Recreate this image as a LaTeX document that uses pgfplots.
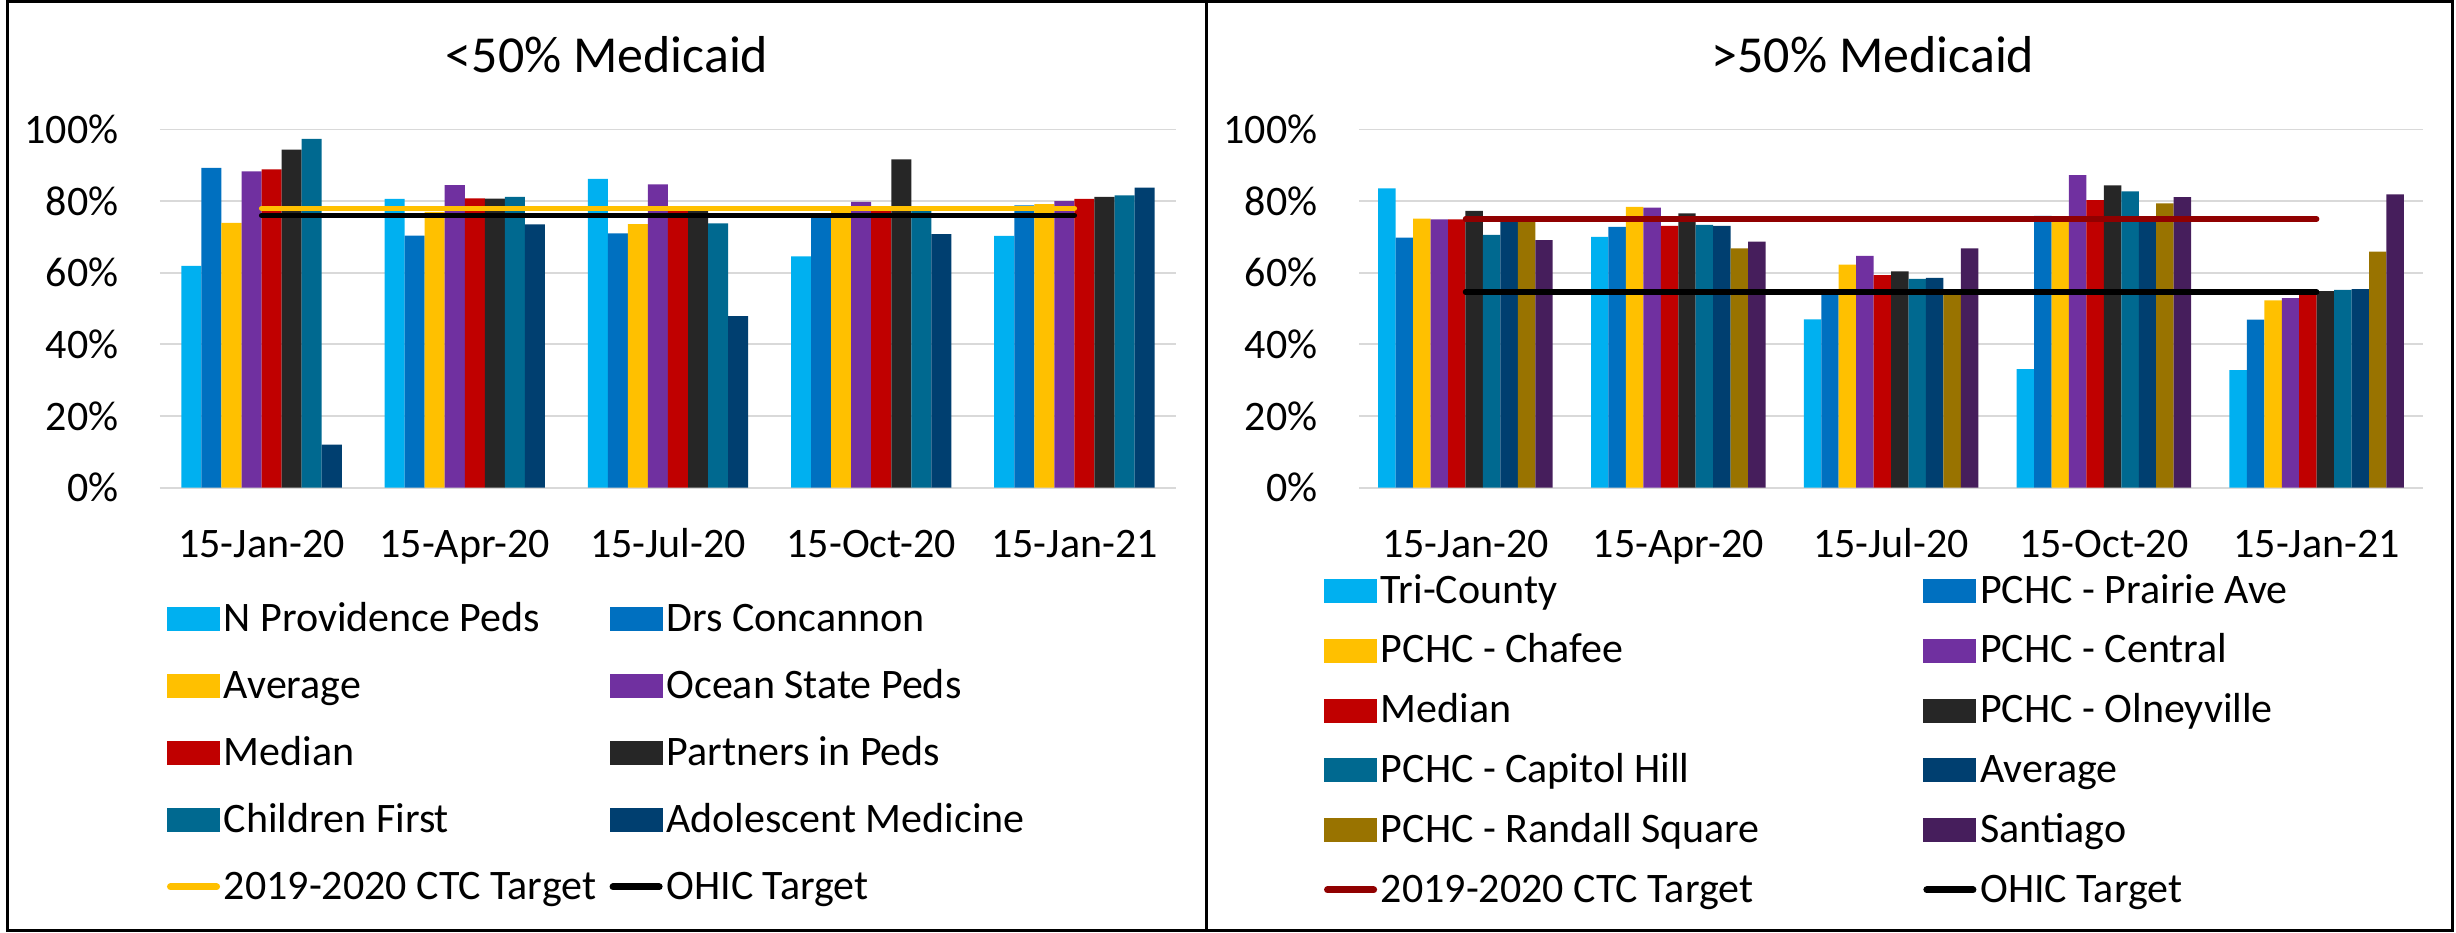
\documentclass[border=0pt]{standalone}
\usepackage{fontspec}
\setmainfont{Carlito}
\usepackage{pgfplots}
\pgfplotsset{compat=1.18}
\definecolor{c1}{HTML}{00B0F0}
\definecolor{c2}{HTML}{0070C0}
\definecolor{c3}{HTML}{FFC000}
\definecolor{c4}{HTML}{7030A0}
\definecolor{c5}{HTML}{C00000}
\definecolor{c6}{HTML}{262626}
\definecolor{c7}{HTML}{006990}
\definecolor{c8}{HTML}{003F70}
\definecolor{c9}{HTML}{997300}
\definecolor{c10}{HTML}{461E5C}
\definecolor{ctcred}{HTML}{900000}
\definecolor{gridc}{HTML}{D9D9D9}
\pgfplotsset{
  bk/.style={ybar, draw=none, fill=#1,
    legend image code/.code={\fill[#1] (0pt,0pt) rectangle (13.9pt,6.3pt);}},
  lk/.style={sharp plot, color=#1, line width=1.4pt, line cap=round, mark=none,
    legend image code/.code={\draw[#1, line width=1.8pt, line cap=round] (0.9pt,3.2pt) -- (13pt,3.2pt);}},
  panel/.style={
    scale only axis, height=93.76pt,
    xmin=-0.5, xmax=4.5, ymin=0, ymax=100,
    xtick={0,1,2,3,4},
    xticklabels={15-Jan-20,15-Apr-20,15-Jul-20,15-Oct-20,15-Jan-21},
    ytick={0,20,40,60,80,100},
    yticklabels={0\%,20\%,40\%,60\%,80\%,100\%},
    major tick length=0pt,
    axis line style={draw=none},
    ymajorgrids, grid style={gridc, line width=0.5pt},
    tick label style={font=\fontsize{11}{13}\selectfont},
    xticklabel style={anchor=base, inner sep=0pt, yshift=-18.2pt},
    yticklabel style={anchor=east, inner sep=0pt, xshift=-10.7pt},
    every axis title shift=0pt,
    title style={anchor=base, font=\fontsize{13.6}{16}\selectfont, inner sep=0pt},
    legend columns=2,
    legend style={draw=none, fill=none, inner sep=0pt, outer sep=0pt,
      anchor=north west, column sep=0pt,
      font=\fontsize{11}{13}\selectfont,
      nodes={inner xsep=1pt, inner ysep=0pt, text height=8pt, text depth=2.5pt},
      cells={anchor=base west}},
  },
}
\begin{document}
\begin{tikzpicture}
\useasboundingbox (0pt,0pt) rectangle (643.2pt,-244.1pt);
\draw[line width=0.8pt] (1.96pt,-0.39pt) rectangle (315.85pt,-243.7pt);
\draw[line width=0.8pt] (315.85pt,-0.39pt) rectangle (642.2pt,-243.7pt);
\begin{axis}[panel, at={(41.90pt,-127.68pt)}, anchor=south west, width=266.09pt,
  bar width=5.25pt,
  title={<50\% Medicaid}, title style={at={(0.44,1.1606)}},
  legend style={at={(0.0069,-0.3156)}, row sep=7.05pt, /tikz/column 2/.style={column sep=2.5pt}}]
\addplot[bk=c1, bar shift=-18.375pt] coordinates {(0,61.9) (1,80.6) (2,86.2) (3,64.6) (4,70.3)};
\addlegendentry{N Providence Peds}
\addplot[bk=c2, bar shift=-13.125pt] coordinates {(0,89.3) (1,70.4) (2,71.0) (3,76.0) (4,78.8)};
\addlegendentry{Drs Concannon}
\addplot[bk=c3, bar shift=-7.875pt] coordinates {(0,73.9) (1,77.0) (2,73.6) (3,77.5) (4,79.2)};
\addlegendentry{Average}
\addplot[bk=c4, bar shift=-2.625pt] coordinates {(0,88.3) (1,84.5) (2,84.7) (3,79.8) (4,80.0)};
\addlegendentry{Ocean State Peds}
\addplot[bk=c5, bar shift=2.625pt] coordinates {(0,88.9) (1,80.8) (2,78.0) (3,78.0) (4,80.6)};
\addlegendentry{Median}
\addplot[bk=c6, bar shift=7.875pt] coordinates {(0,94.4) (1,80.7) (2,77.3) (3,91.7) (4,81.2)};
\addlegendentry{Partners in Peds}
\addplot[bk=c7, bar shift=13.125pt] coordinates {(0,97.4) (1,81.2) (2,73.8) (3,77.3) (4,81.6)};
\addlegendentry{Children First}
\addplot[bk=c8, bar shift=18.375pt] coordinates {(0,12.0) (1,73.5) (2,47.9) (3,70.8) (4,83.8)};
\addlegendentry{Adolescent Medicine}
\addplot[lk=c3] coordinates {(0,78) (4,78)};
\addlegendentry{2019-2020 CTC Target}
\addplot[lk=black] coordinates {(0,76) (4,76)};
\addlegendentry{OHIC Target}
\end{axis}
\begin{axis}[panel, at={(355.92pt,-127.68pt)}, anchor=south west, width=278.66pt,
  bar width=4.57pt,
  title={>50\% Medicaid}, title style={at={(0.483,1.1606)}},
  legend style={at={(-0.0329,-0.2374)}, row sep=5.16pt, /tikz/column 2/.style={column sep=41.8pt}}]
\addplot[bk=c1, bar shift=-20.565pt] coordinates {(0,83.6) (1,70.0) (2,47.0) (3,33.1) (4,32.8)};
\addlegendentry{Tri-County}
\addplot[bk=c2, bar shift=-15.995pt] coordinates {(0,69.8) (1,72.8) (2,55.0) (3,75.9) (4,46.9)};
\addlegendentry{PCHC - Prairie Ave}
\addplot[bk=c3, bar shift=-11.425pt] coordinates {(0,75.1) (1,78.4) (2,62.3) (3,74.8) (4,52.3)};
\addlegendentry{PCHC - Chafee}
\addplot[bk=c4, bar shift=-6.855pt] coordinates {(0,74.9) (1,78.2) (2,64.7) (3,87.3) (4,52.9)};
\addlegendentry{PCHC - Central}
\addplot[bk=c5, bar shift=-2.285pt] coordinates {(0,74.9) (1,73.1) (2,59.3) (3,80.3) (4,54.5)};
\addlegendentry{Median}
\addplot[bk=c6, bar shift=2.285pt] coordinates {(0,77.3) (1,76.6) (2,60.4) (3,84.4) (4,54.9)};
\addlegendentry{PCHC - Olneyville}
\addplot[bk=c7, bar shift=6.855pt] coordinates {(0,70.6) (1,73.4) (2,58.3) (3,82.7) (4,55.2)};
\addlegendentry{PCHC - Capitol Hill}
\addplot[bk=c8, bar shift=11.425pt] coordinates {(0,75.0) (1,73.1) (2,58.6) (3,75.2) (4,55.4)};
\addlegendentry{Average}
\addplot[bk=c9, bar shift=15.995pt] coordinates {(0,74.8) (1,66.8) (2,55.0) (3,79.4) (4,65.9)};
\addlegendentry{PCHC - Randall Square}
\addplot[bk=c10, bar shift=20.565pt] coordinates {(0,69.1) (1,68.7) (2,66.8) (3,81.1) (4,81.9)};
\addlegendentry{Santiago}
\addplot[lk=ctcred] coordinates {(0,75) (4,75)};
\addlegendentry{2019-2020 CTC Target}
\addplot[lk=black] coordinates {(0,54.6) (4,54.6)};
\addlegendentry{OHIC Target}
\end{axis}
\end{tikzpicture}
\end{document}
